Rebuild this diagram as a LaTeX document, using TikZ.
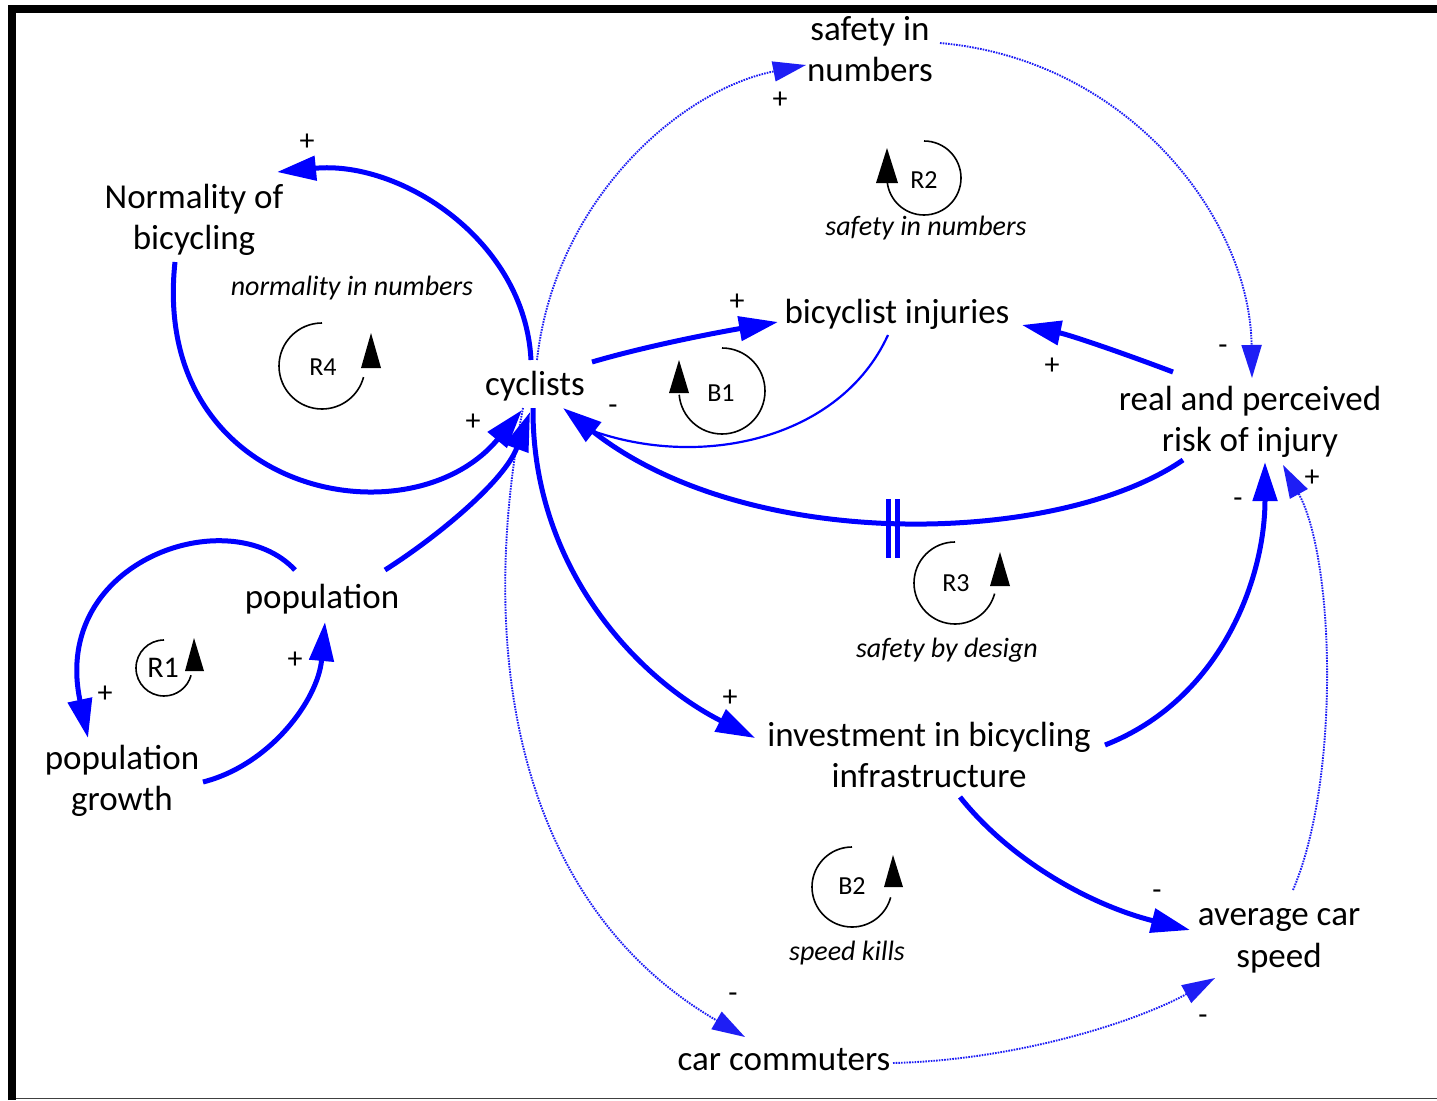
\documentclass[tikz,border=0pt]{standalone}
\usepackage{fontspec}
\setmainfont{Carlito}
\usetikzlibrary{arrows.meta}
\definecolor{lnk}{RGB}{0,0,255}
\definecolor{dlnk}{RGB}{30,30,245}
\begin{document}
\begin{tikzpicture}[x=1pt,y=-1pt,
  var/.style={inner sep=0pt, align=center, font=\fontsize{35}{41.5}\selectfont},
  loopname/.style={inner sep=0pt, anchor=base, font=\fontsize{28}{34}\selectfont\itshape},
  sign/.style={inner sep=0pt, font=\fontsize{30}{36}\selectfont},
  lid/.style={inner sep=0pt, font=\fontsize{26}{30}\selectfont},
  strong/.style={draw=lnk, line width=5pt, -{Triangle[length=39pt,width=24pt]}},
  weak/.style={draw=dlnk, line width=1.9pt, dash pattern=on 1.6pt off 1.1pt, -{Triangle[length=33pt,width=20pt]}},
  plain/.style={draw=lnk, line width=2.2pt},
  loopc/.style={draw=black, line width=1.6pt},
  looptip/.style={fill=black},
]
\useasboundingbox (0,0) rectangle (1437,1100);
\fill[white] (0,0) rectangle (1437,1100);
% frame
\draw[line width=8pt] (12,1100) -- (12,9) -- (1437,9);
\draw[line width=1.5pt, black!75] (16,1098.5) -- (1437,1098.5);

% variables
\node[var] (sin) at (870,49) {safety in\\numbers};
\node[var] (norm) at (194,220) {Normality of\\bicycling};
\node[var, anchor=base] (cyc) at (535,395) {cyclists};
\node[var, anchor=base] (inj) at (897,323) {bicyclist injuries};
\node[var] (risk) at (1250,422) {real and perceived\\risk of injury};
\node[var, anchor=base] (pop) at (322,608) {population};
\node[var] (popg) at (122,781) {population\\growth};
\node[var] (inv) at (929,755) {investment in bicycling\\infrastructure};
\node[var] (acs) at (1279,941) {average car\\speed};
\node[var, anchor=base] (car) at (784,1070) {car commuters};

% loop names
\node[loopname] (ln4) at (352,295) {normality in numbers};
\node[loopname] (ln2) at (926,235) {safety in numbers};
\node[loopname] (ln3) at (947,657) {safety by design};
\node[loopname] (lnb2) at (847,960) {speed kills};

% connectors
\draw[strong] ([shift={(-4,-35)}]cyc.base) .. controls (525,240) and (400,160) .. ([shift={(83,-48)}]norm.center);
\draw[strong] ([shift={(-19,42)}]norm.center) .. controls (150,495) and (410,545) .. ([shift={(-13,15)}]cyc.base);
\draw[strong] ([shift={(57,-33)}]cyc.base) .. controls (650,345) and (720,332) .. ([shift={(-119,-1)}]inj.base);
\draw[plain] ([shift={(-9,12)}]inj.base) .. controls (840,440) and (700,470) .. ([shift={(55,35)}]cyc.base);
\draw[strong] ([shift={(-67,38)}]risk.center) .. controls (1060,545) and (750,555) .. ([shift={(28,13)}]cyc.base);
\draw[strong] ([shift={(-77,-50)}]risk.center) .. controls (1120,352) and (1070,335) .. ([shift={(125,2)}]inj.base);
\draw[weak] ([shift={(70,-6)}]sin.center) .. controls (1130,60) and (1250,220) .. ([shift={(2,-44)}]risk.center);
\draw[weak] ([shift={(2,-35)}]cyc.base) .. controls (555,200) and (680,90) .. ([shift={(-64,16)}]sin.center);
\draw[strong] ([shift={(-2,13)}]cyc.base) .. controls (532,570) and (640,680) .. ([shift={(-174,-17)}]inv.center);
\draw[strong] ([shift={(176,-10)}]inv.center) .. controls (1220,700) and (1265,580) .. ([shift={(15,40)}]risk.center);
\draw[strong] ([shift={(31,42)}]inv.center) .. controls (1010,860) and (1090,905) .. ([shift={(-89,-11)}]acs.center);
\draw[weak] ([shift={(14,-51)}]acs.center) .. controls (1340,780) and (1335,560) .. ([shift={(33,43)}]risk.center);
\draw[weak] ([shift={(-12,13)}]cyc.base) .. controls (478,640) and (510,900) .. ([shift={(-39,-33)}]car.base);
\draw[weak] ([shift={(109,-7)}]car.base) .. controls (1020,1060) and (1140,1020) .. ([shift={(-64,37)}]acs.center);
\draw[strong] ([shift={(63,-38)}]pop.base) .. controls (440,535) and (505,480) .. ([shift={(-5,17)}]cyc.base);
\draw[strong] ([shift={(-27,-38)}]pop.base) .. controls (230,500) and (50,560) .. ([shift={(-34,-43)}]popg.center);
\draw[strong] ([shift={(81,1)}]popg.center) .. controls (270,765) and (318,700) .. ([shift={(3,14)}]pop.base);

% delay mark
\draw[lnk, line width=5pt] (888,499) -- (888,558);
\draw[lnk, line width=5pt] (897,499) -- (897,558);

% polarity signs
\node[sign] (s1) at (307,142) {+};
\node[sign] (s2) at (780,100) {+};
\node[sign] (s3) at (737,302) {+};
\node[sign] (s4) at (613,410) {-};
\node[sign] (s5) at (473,422) {+};
\node[sign] (s6) at (1052,366) {+};
\node[sign] (s7) at (1223,350) {-};
\node[sign] (s8) at (1312,478) {+};
\node[sign] (s9) at (1238,503) {-};
\node[sign] (s10) at (730,698) {+};
\node[sign] (s11) at (105,694) {+};
\node[sign] (s12) at (295,660) {+};
\node[sign] (s13) at (1157,895) {-};
\node[sign] (s14) at (733,998) {-};
\node[sign] (s15) at (1203,1020) {-};

% loop markers
\draw[loopc] (924,141) arc[start angle=-90, end angle=175, radius=37];
\fill[looptip] (887,148) -- (898,183) -- (876,183) -- cycle;
\node[lid] (r2) at (924,180) {R2};

\draw[loopc] (322,323) arc[start angle=-90, end angle=-345, radius=43];
\fill[looptip] (371,333) -- (381,368) -- (361,368) -- cycle;
\node[lid] (r4) at (323,367) {R4};

\draw[loopc] (722,348) arc[start angle=-90, end angle=175, radius=43];
\fill[looptip] (679,360) -- (689,393) -- (669,393) -- cycle;
\node[lid] (b1) at (721,393) {B1};

\draw[loopc] (955,542) arc[start angle=-90, end angle=-345, radius=41];
\fill[looptip] (1000,552) -- (1010,586) -- (990,586) -- cycle;
\node[lid] (r3) at (956,583) {R3};

\draw[loopc] (852,847) arc[start angle=-90, end angle=-345, radius=40];
\fill[looptip] (893,855) -- (903,887) -- (884,887) -- cycle;
\node[lid] (b2) at (852,886) {B2};

\draw[loopc] (164,640) arc[start angle=-90, end angle=-345, radius=28];
\fill[looptip] (194,638) -- (204,671) -- (185,671) -- cycle;
\node[lid, font=\fontsize{30}{34}\selectfont] (r1) at (163,668) {R1};
\end{tikzpicture}
\end{document}
